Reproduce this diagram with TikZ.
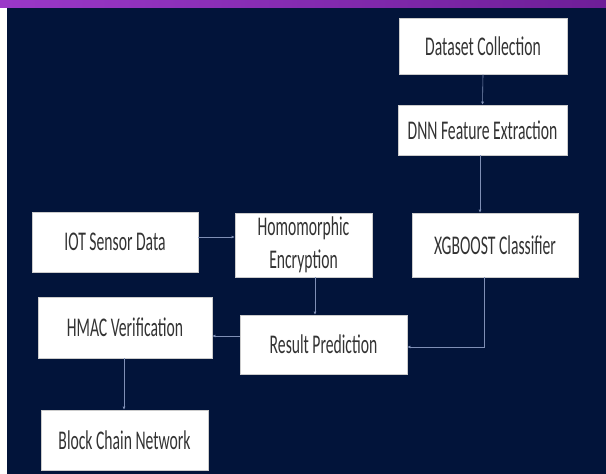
\documentclass[tikz,border=0pt]{standalone}
\usepackage{fontspec}
\setmainfont{Carlito}[FakeStretch=0.58]
\usetikzlibrary{arrows.meta}
\definecolor{navy}{HTML}{02143A}
\definecolor{purpA}{HTML}{9A38C8}
\definecolor{purpB}{HTML}{6E1E98}
\definecolor{linec}{HTML}{7F8FB5}
\tikzset{
  box/.style={rectangle, fill=white, draw=gray!40, line width=0.6pt, inner sep=1pt, align=center, text=black!80, font=\fontsize{27}{33}\selectfont},
  arr/.style={draw=linec, line width=0.6pt, -{Latex[length=3pt,width=3pt]}}
}
\begin{document}
\begin{tikzpicture}[x=1pt,y=-1pt]
\useasboundingbox (0,0) rectangle (606,474);
\fill[white] (0,0) rectangle (606,474);
\fill[navy] (7,7) rectangle (606,474);
\shade[left color=purpA, right color=purpB] (0,0) rectangle (606,7);
\node[box, minimum width=168pt, minimum height=56pt] (ds) at (483,46) {Dataset Collection};
\node[box, minimum width=169pt, minimum height=50pt] (dnn) at (482.5,130) {DNN Feature Extraction};
\node[box, minimum width=166pt, minimum height=64pt] (xgb) at (495,245) {XGBOOST Classifier};
\node[box, minimum width=166pt, minimum height=60pt] (iot) at (115,242) {IOT Sensor Data};
\node[box, minimum width=137pt, minimum height=64pt] (he) at (303.5,245) {Homomorphic\\Encryption};
\node[box, minimum width=174pt, minimum height=61pt] (hmac) at (125,327.5) {HMAC Verification};
\node[box, minimum width=167pt, minimum height=59pt] (res) at (323.5,344.5) {Result Prediction};
\node[box, minimum width=167pt, minimum height=60pt] (bcn) at (124.5,440) {Block Chain Network};
\draw[arr] (ds.south) -- (dnn.north);
\draw[arr] ([xshift=-2.5pt]dnn.south) -- ([xshift=-2.5pt]dnn.south |- xgb.north);
\draw[arr] ([yshift=5pt]iot.east) -- ([yshift=5pt]iot.east -| he.west);
\draw[arr] ([xshift=11.5pt]he.south) -- ([xshift=11.5pt]he.south |- res.north);
\draw[arr] ([xshift=-11pt]xgb.south) |- ([yshift=-2.5pt]res.east);
\draw[arr] ([yshift=8.5pt]res.west) -- ([yshift=8.5pt]res.west -| hmac.east);
\draw[arr] ([xshift=-1pt]hmac.south) -- ([xshift=-1pt]hmac.south |- bcn.north);
\end{tikzpicture}
\end{document}
